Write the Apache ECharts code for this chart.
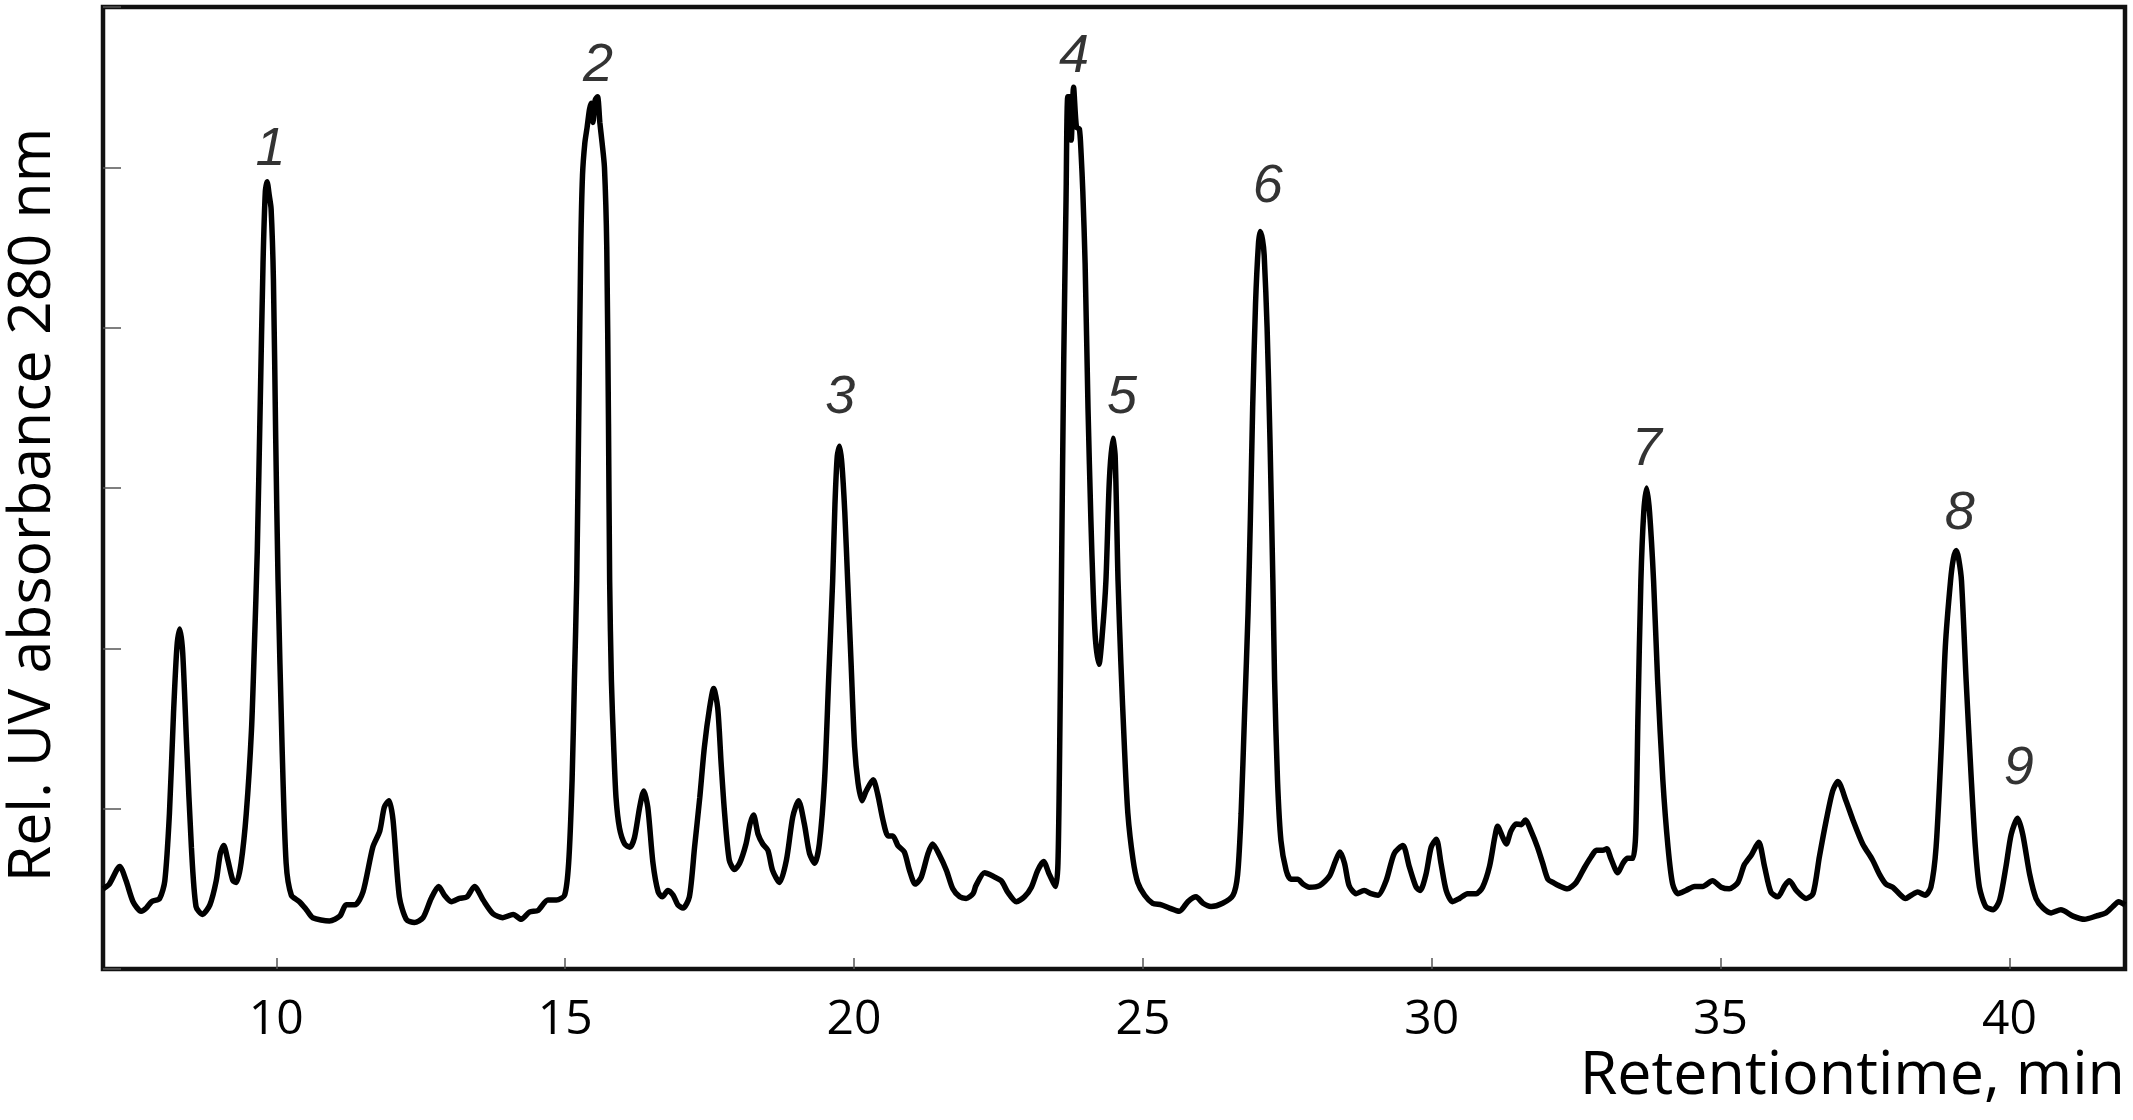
<!DOCTYPE html>
<html>
<head>
<meta charset="utf-8">
<script src="https://cdn.jsdelivr.net/npm/echarts@6/dist/echarts.min.js"></script>
<style>
html,body{margin:0;padding:0;background:#fff;}
#chart{width:2133px;height:1120px;}
</style>
</head>
<body>
<div id="chart"></div>
<script>
// Retention time (min) and relative UV absorbance
var retentionTime = [
7.00,7.11,7.29,7.40,7.52,7.66,7.75,7.84,7.98,8.07,8.15,8.22,8.28,8.33,8.38,8.45,8.53,8.61,8.72,8.85,
8.96,9.03,9.09,9.16,9.25,9.31,9.39,9.48,9.57,9.62,9.67,9.72,9.77,9.81,9.84,9.88,9.91,9.95,9.99,10.03,
10.10,10.17,10.26,10.40,10.52,10.63,10.92,11.10,11.21,11.36,11.50,11.67,11.79,11.87,11.95,12.02,12.13,12.25,12.39,12.54,
12.68,12.81,12.91,13.03,13.17,13.30,13.43,13.58,13.75,13.92,14.10,14.24,14.38,14.53,14.70,14.85,14.99,15.06,15.12,15.16,
15.20,15.24,15.27,15.30,15.34,15.38,15.42,15.45,15.48,15.52,15.56,15.60,15.64,15.68,15.72,15.75,15.77,15.80,15.84,15.88,
15.94,16.03,16.12,16.20,16.29,16.36,16.43,16.52,16.61,16.68,16.78,16.87,16.95,17.04,17.15,17.24,17.33,17.41,17.50,17.57,
17.64,17.70,17.76,17.84,17.93,18.02,18.13,18.20,18.26,18.34,18.42,18.51,18.59,18.71,18.83,18.94,19.04,19.14,19.23,19.32,
19.40,19.49,19.56,19.63,19.67,19.71,19.75,19.79,19.84,19.89,19.95,20.01,20.07,20.14,20.21,20.33,20.41,20.50,20.59,20.67,
20.76,20.87,20.96,21.06,21.16,21.28,21.36,21.48,21.60,21.71,21.83,21.94,22.06,22.11,22.26,22.40,22.55,22.66,22.81,22.95,
23.07,23.18,23.28,23.38,23.49,23.53,23.56,23.59,23.63,23.67,23.70,23.74,23.76,23.80,23.85,23.90,23.93,23.96,24.00,24.05,
24.10,24.14,24.18,24.24,24.30,24.36,24.42,24.48,24.52,24.57,24.62,24.68,24.74,24.83,24.91,25.03,25.17,25.32,25.46,25.63,
25.78,25.92,26.04,26.18,26.38,26.56,26.64,26.70,26.76,26.82,26.86,26.90,26.95,27.00,27.03,27.07,27.10,27.15,27.20,27.25,
27.28,27.33,27.39,27.48,27.56,27.68,27.77,27.88,28.06,28.23,28.33,28.41,28.49,28.57,28.69,28.83,28.95,29.07,29.21,29.35,
29.50,29.61,29.73,29.80,29.90,29.99,30.08,30.16,30.25,30.36,30.48,30.62,30.77,30.88,31.00,31.09,31.14,31.23,31.29,31.37,
31.46,31.55,31.62,31.72,31.83,31.92,32.01,32.10,32.20,32.35,32.50,32.64,32.76,32.85,32.96,33.03,33.10,33.22,33.31,33.39,
33.48,33.53,33.57,33.62,33.67,33.72,33.77,33.84,33.91,34.00,34.09,34.17,34.26,34.40,34.55,34.69,34.86,35.01,35.15,35.30,
35.41,35.53,35.66,35.76,35.87,35.99,36.11,36.19,36.31,36.48,36.60,36.71,36.83,36.94,37.03,37.17,37.29,37.46,37.63,37.75,
37.86,37.98,38.09,38.20,38.30,38.41,38.54,38.64,38.73,38.82,38.89,38.98,39.03,39.08,39.12,39.17,39.25,39.34,39.41,39.48,
39.59,39.72,39.83,39.94,40.03,40.14,40.23,40.35,40.46,40.58,40.72,40.89,41.10,41.30,41.50,41.67,41.79,41.89,42.00
];
var absorbance = [
0.50,0.53,0.64,0.55,0.42,0.36,0.38,0.42,0.44,0.55,0.97,1.59,2.01,2.12,1.97,1.38,0.76,0.39,0.34,0.40,
0.55,0.72,0.77,0.68,0.55,0.54,0.66,0.97,1.49,2.01,2.60,3.50,4.40,4.85,4.91,4.82,4.74,4.30,3.30,2.42,
1.385,0.66,0.46,0.42,0.37,0.32,0.30,0.33,0.40,0.40,0.48,0.76,0.86,1.01,1.05,0.93,0.45,0.31,0.29,0.32,
0.44,0.515,0.46,0.42,0.44,0.45,0.515,0.43,0.345,0.32,0.34,0.31,0.355,0.365,0.43,0.43,0.46,0.66,1.18,1.80,
2.42,3.60,4.50,4.95,5.15,5.25,5.36,5.40,5.28,5.42,5.44,5.28,5.15,5.00,4.50,3.40,2.42,1.80,1.385,1.07,
0.88,0.78,0.76,0.82,1.01,1.11,1.01,0.66,0.48,0.45,0.49,0.46,0.40,0.38,0.45,0.76,1.07,1.385,1.63,1.75,
1.63,1.28,0.97,0.68,0.62,0.66,0.78,0.905,0.96,0.84,0.78,0.74,0.615,0.54,0.68,0.95,1.05,0.905,0.72,0.66,
0.78,1.18,1.80,2.42,2.90,3.20,3.26,3.15,2.85,2.42,1.90,1.385,1.16,1.05,1.11,1.18,1.09,0.93,0.83,0.83,
0.77,0.73,0.615,0.53,0.57,0.72,0.78,0.71,0.615,0.50,0.45,0.44,0.47,0.52,0.60,0.58,0.55,0.48,0.42,0.45,
0.51,0.615,0.67,0.59,0.515,0.66,1.385,2.42,3.80,4.80,5.44,5.44,5.17,5.50,5.25,5.24,5.09,4.85,4.40,3.50,
2.80,2.35,2.05,1.90,2.10,2.42,3.05,3.31,3.20,2.42,1.90,1.385,0.97,0.68,0.54,0.46,0.41,0.40,0.38,0.36,
0.42,0.45,0.41,0.39,0.41,0.46,0.59,0.97,1.59,2.22,2.80,3.50,4.15,4.52,4.60,4.55,4.45,4.00,3.30,2.42,
1.80,1.18,0.80,0.615,0.56,0.56,0.53,0.51,0.52,0.58,0.67,0.73,0.66,0.52,0.47,0.49,0.47,0.46,0.55,0.72,
0.77,0.64,0.51,0.49,0.59,0.76,0.81,0.66,0.49,0.42,0.44,0.47,0.47,0.51,0.64,0.82,0.89,0.82,0.78,0.86,
0.905,0.90,0.93,0.86,0.76,0.66,0.56,0.54,0.52,0.50,0.54,0.63,0.70,0.74,0.74,0.75,0.69,0.60,0.66,0.69,
0.69,0.84,1.59,2.42,2.85,3.00,2.85,2.42,1.80,1.18,0.76,0.53,0.47,0.49,0.515,0.515,0.55,0.51,0.50,0.54,
0.65,0.71,0.79,0.64,0.48,0.45,0.52,0.55,0.49,0.44,0.47,0.70,0.93,1.11,1.17,1.05,0.93,0.78,0.68,0.59,
0.53,0.51,0.47,0.44,0.46,0.48,0.46,0.51,0.76,1.385,2.01,2.42,2.56,2.61,2.56,2.42,1.80,1.18,0.76,0.51,
0.39,0.37,0.43,0.64,0.84,0.94,0.84,0.59,0.44,0.38,0.35,0.37,0.33,0.31,0.33,0.35,0.39,0.42,0.40
];
// Peak numbers and their label positions
var peakNames = ['1','2','3','4','5','6','7','8','9'];
var peakLabelX = [9.90, 15.57, 19.76, 23.81, 24.64, 27.16, 33.72, 39.14, 40.16];
var peakLabelY = [5.11, 5.63, 3.56, 5.69, 3.56, 4.88, 3.24, 2.84, 1.25];
var xTickValues = [10, 15, 20, 25, 30, 35, 40];
var xTitle = 'Retentiontime, min';
var yTitle = 'Rel. UV absorbance 280 nm';

var lineData = retentionTime.map(function (t, i) { return [t, absorbance[i]]; });
var labelData = peakNames.map(function (n, i) { return [peakLabelX[i], peakLabelY[i], n]; });

var chart = echarts.init(document.getElementById('chart'), null, {renderer: 'canvas'});
chart.setOption({
  animation: false,
  backgroundColor: '#ffffff',
  grid: {
    left: 103, right: 8, top: 7, bottom: 151,
    show: true, borderWidth: 4.5, borderColor: '#111', backgroundColor: 'transparent'
  },
  xAxis: {
    type: 'value', min: 7, max: 42,
    axisLine: {show: false},
    splitLine: {show: false},
    axisTick: {show: true, inside: true, length: 11, customValues: xTickValues,
      lineStyle: {color: '#555', width: 1.5}},
    axisLabel: {show: true, customValues: xTickValues, margin: 27,
      fontFamily: 'Open Sans', fontSize: 48, color: '#000'}
  },
  yAxis: {
    type: 'value', min: 0, max: 6, interval: 1,
    axisLine: {show: false},
    splitLine: {show: false},
    axisTick: {show: true, inside: true, length: 18, lineStyle: {color: '#555', width: 1.5}},
    axisLabel: {show: false}
  },
  graphic: [
    {type: 'text', right: 8, top: 1046,
      style: {text: xTitle, fontFamily: 'Open Sans', fontSize: 61, fill: '#000'}},
    {type: 'text', x: 33, y: 505, rotation: Math.PI / 2,
      style: {text: yTitle, fontFamily: 'Open Sans', fontSize: 59, fill: '#000',
        align: 'center', verticalAlign: 'middle'}}
  ],
  series: [
    {
      type: 'line', data: lineData, showSymbol: false, smooth: 0.25,
      lineStyle: {color: '#000', width: 5.5}, silent: true
    },
    {
      type: 'scatter', data: labelData, symbolSize: 1, silent: true,
      itemStyle: {color: 'rgba(0,0,0,0)'},
      label: {show: true, position: 'inside', formatter: function (p) { return p.data[2]; },
        fontFamily: 'Liberation Sans', fontStyle: 'italic', fontSize: 54, color: '#000'}
    }
  ]
});
</script>
</body>
</html>
